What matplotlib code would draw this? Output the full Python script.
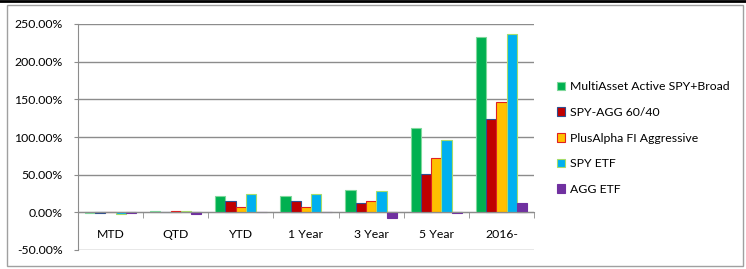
import numpy as np
import matplotlib
matplotlib.use("Agg")
import matplotlib.pyplot as plt
from matplotlib.patches import Rectangle
from matplotlib.ticker import FuncFormatter, FixedLocator

# values, in percent
periods = ["MTD", "QTD", "YTD", "1 Year", "3 Year", "5 Year", "2016-"]
multiasset = [-0.5, 2.0, 21.7, 22.0, 30.0, 112.0, 233.0]
spy_agg = [-1.5, 0.3, 14.6, 15.0, 13.0, 50.5, 123.5]
plusalpha = [1.0, 2.0, 7.5, 7.5, 15.5, 72.0, 146.0]
spy_etf = [-2.0, 1.5, 24.4, 24.5, 28.0, 96.0, 236.5]
agg_etf = [-1.5, -2.5, 0.5, 0.5, -8.0, -1.0, 12.0]

series = [
    ("MultiAsset Active SPY+Broad", multiasset, "#00B050", "#7FD89B"),
    ("SPY-AGG 60/40", spy_agg, "#C00000", "#2F4F8F"),
    ("PlusAlpha FI Aggressive", plusalpha, "#FFC000", "#E02020"),
    ("SPY ETF", spy_etf, "#00B0F0", "#A6DC6A"),
    ("AGG ETF", agg_etf, "#7030A0", "#7030A0"),
]

plt.rcParams['font.family'] = ['Lato', 'DejaVu Sans']
fs = 8.8

fig = plt.figure(figsize=(7.46, 2.69), dpi=100)
# outer frame and the table line above it
fig.patches.append(Rectangle((7/746, 3/269), 736/746, 261/269, transform=fig.transFigure,
                             fill=False, edgecolor="#A0A0A0", linewidth=1))
fig.add_artist(plt.Line2D([0, 1], [1 - 1/269, 1 - 1/269], color="black", linewidth=2))

ax = fig.add_axes([78/746, 1 - 250/269, 456/746, 226/269])
x = np.arange(len(periods))
w = 0.158
for i, (name, vals, fc, ec) in enumerate(series):
    ax.bar(x + (i - 2) * w, vals, w, color=fc, edgecolor=ec, linewidth=0.8, label=name, zorder=3)

ax.set_xlim(-0.5, len(periods) - 0.5)
ax.set_ylim(-50, 250)
ax.set_yticks(np.arange(-50, 251, 50))
ax.yaxis.set_major_formatter(FuncFormatter(lambda v, p: "%.2f%%" % v))
ax.grid(axis="y", color="#8C8C8C", linewidth=1, zorder=0)

for s in ["top", "right"]:
    ax.spines[s].set_visible(False)
ax.spines["left"].set_color("#8C8C8C")
ax.spines["bottom"].set_position(("data", 0))
ax.spines["bottom"].set_color("#8C8C8C")
ax.spines["bottom"].set_zorder(4)

ax.set_xticks(x)
ax.set_xticklabels(periods)
ax.xaxis.set_minor_locator(FixedLocator(np.arange(-0.5, len(periods), 1.0)))
ax.tick_params(axis="x", which="major", length=0, pad=12, labelsize=fs)
ax.tick_params(axis="x", which="minor", length=4, color="#8C8C8C", direction="out")
ax.tick_params(axis="y", length=3, color="#8C8C8C", labelsize=fs, pad=8)

fig.legend(loc="center left", bbox_to_anchor=(552/746, 1 - 138/269), frameon=False,
           fontsize=fs, handlelength=0.7, handleheight=0.7, handletextpad=0.4,
           labelspacing=1.2, borderaxespad=0)

fig.savefig("out.png", dpi=100)
